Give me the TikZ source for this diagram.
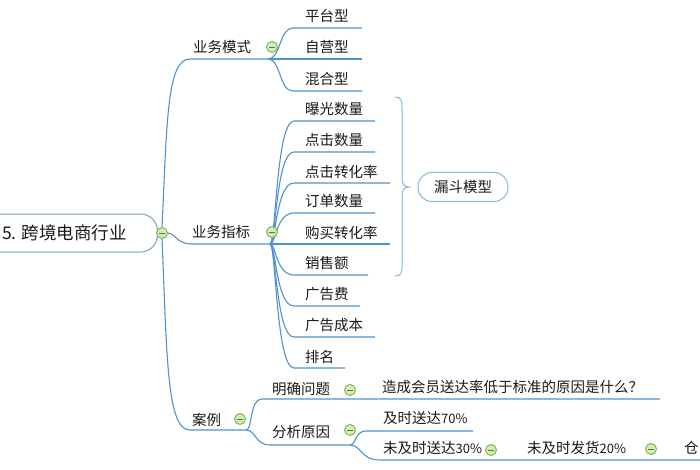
\documentclass[tikz,border=0pt]{standalone}
\usepackage{fontspec}
\setmainfont{Noto Sans CJK SC}
\usetikzlibrary{calc}
\definecolor{lineblue}{RGB}{80,146,206}
\definecolor{bracec}{RGB}{125,190,210}
\definecolor{boxc}{RGB}{120,165,185}
\definecolor{btnfill}{RGB}{214,236,184}
\definecolor{btndraw}{RGB}{128,182,88}
\definecolor{btnminus}{RGB}{80,125,50}
\definecolor{txt}{RGB}{25,25,25}
\newcommand{\smd}[1]{{\fontsize{13}{14}\selectfont #1}}
\begin{document}
\begin{tikzpicture}[x=1pt,y=-1pt,
  lbl/.style={anchor=west,inner sep=0pt,font=\fontsize{14.5}{16}\selectfont,text=txt},
  btn/.style={circle,draw=btndraw,fill=btnfill,line width=1pt,minimum size=11pt,inner sep=0pt,
    path picture={\draw[btnminus,line width=0.9pt] ($(path picture bounding box.center)+(-2.8pt,0pt)$)--($(path picture bounding box.center)+(2.8pt,0pt)$);}},
  conn/.style={draw=lineblue,line width=1.1pt},
  pill/.style={draw=bracec,line width=1pt,rounded corners=14pt,fill=white,inner sep=0pt,
    minimum width=90pt,minimum height=29pt,font=\fontsize{14.5}{16}\selectfont,text=txt},
]
\useasboundingbox (0,0) rectangle (700,470);

% root
\node[draw=boxc,line width=1pt,rounded corners=17pt,minimum height=38pt,minimum width=190pt,anchor=east,fill=white] (rootbox) at (158,233) {};
\node[lbl,font=\fontsize{17.5}{19}\selectfont] (root) at (2,233) {5. 跨境电商行业};

% level-1 connectors
\coordinate (b1) at (268,59);
\coordinate (b2) at (270,244);
\coordinate (b3) at (246,430);
\draw[conn] (162,228) .. controls (167,120) and (167,59) .. (190,59) -- (b1);
\draw[conn] (167,233) .. controls (176,233) and (176,244) .. (192,244) -- (b2);
\draw[conn] (162,238) .. controls (167,360) and (167,430) .. (190,430) -- (b3);
\node[btn] (c0) at (162,233) {};

% 业务模式
\node[lbl] (ywms) at (193,47) {业务模式};
\node[lbl] (pt) at (305,16) {平台型};
\node[lbl] (zy) at (305,47) {自营型};
\node[lbl] (hh) at (305,79) {混合型};
\coordinate (pte) at (362,28);
\coordinate (zye) at (362,59);
\coordinate (hhe) at (362,91);
\draw[conn] (b1) .. controls (281,59) and (279,28) .. (293,28) -- (pte);
\draw[conn] (b1) -- (zye);
\draw[conn] (b1) .. controls (281,59) and (279,91) .. (293,91) -- (hhe);
\node[btn] (c1) at (272,47) {};

% 业务指标
\node[lbl] (ywzb) at (192,232) {业务指标};
\foreach \name/\t/\u/\e in {bg/曝光数量/121/375, dj/点击数量/152/375, djzh/点击转化率/183/390, dd/订单数量/213/375, gmzh/购买转化率/244/390, xse/销售额/275/368, ggf/广告费/306/360, ggcb/广告成本/337/375, pm/排名/368/345}{
  \node[lbl] (\name) at (305,\u-11.5) {\t};
  \coordinate (\name e) at (\e,\u);
  \draw[conn] (b2) .. controls (276,244) and (276,\u) .. (294,\u) -- (\name e);
}
\node[btn] (c2) at (272,232) {};

% brace + 漏斗模型
\draw[bracec,line width=1pt] (395,97) .. controls (401,97) and (402,100) .. (402,108) -- (402,178)
  .. controls (402,184) and (404,187) .. (409,187) .. controls (404,187) and (402,190) .. (402,196)
  -- (402,266) .. controls (402,273) and (401,276) .. (395,276);
\node[pill] (ldmx) at (463,187) {漏斗模型};

% 案例
\node[lbl] (al) at (192,420) {案例};
\node[lbl] (mqwt) at (272,389) {明确问题};
\node[lbl] (zc) at (382,387) {造成会员送达率低于标准的原因是什么？};
\coordinate (zce) at (660,399);
\draw[conn] (b3) .. controls (253,430) and (249,399) .. (262,399) -- (zce);
\node[lbl] (fxyy) at (272,432) {分析原因};
\coordinate (b5) at (350,445);
\draw[conn] (b3) .. controls (256,430) and (255,445) .. (270,445) -- (b5);
\node[lbl] (js70) at (383,418) {及时送达\smd{70\%}};
\coordinate (js70e) at (473,431);
\draw[conn] (b5) .. controls (356,445) and (355,431) .. (366,431) -- (js70e);
\node[lbl] (wjs30) at (383,448) {未及时送达\smd{30\%}};
\node[lbl] (wfh20) at (527,448) {未及时发货\smd{20\%}};
\node[lbl] (ck) at (684,448) {仓};
\coordinate (wjs30e) at (700,460);
\draw[conn] (b5) .. controls (362,445) and (360,460) .. (380,460) -- (wjs30e);
\node[btn] (c3) at (240,419) {};
\node[btn] (c4) at (350,390) {};
\node[btn] (c5) at (350,430) {};
\node[btn] (c6) at (491,450) {};
\node[btn] (c7) at (651,449) {};
\end{tikzpicture}
\end{document}
